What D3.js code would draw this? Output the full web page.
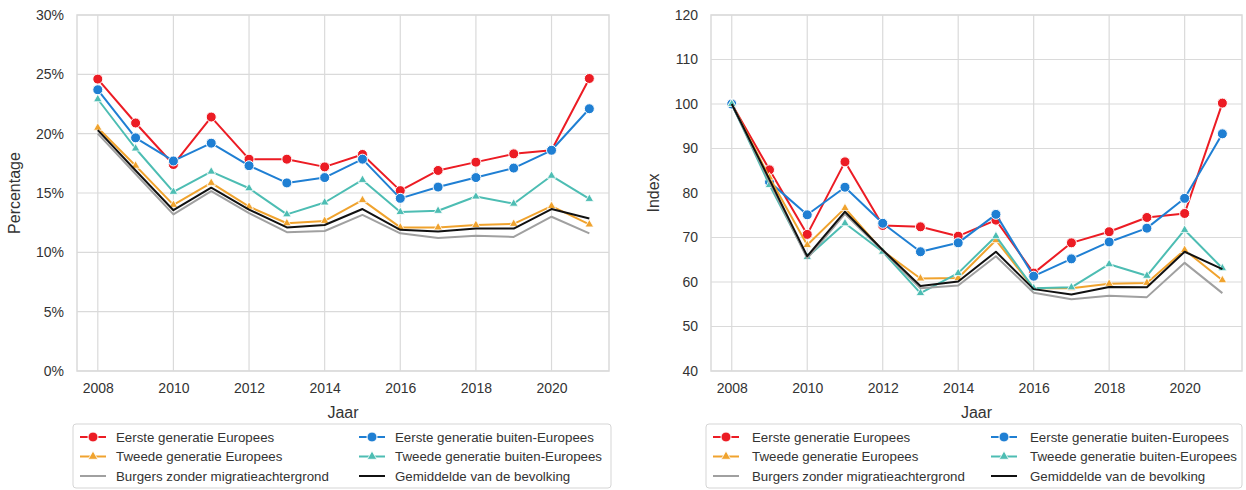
<!DOCTYPE html>
<html><head><meta charset="utf-8">
<script src="https://cdn.jsdelivr.net/npm/d3@7"></script>
<style>body{margin:0;background:#fff;}svg{display:block;font-family:"Liberation Sans",Arial,sans-serif;}</style>
</head><body>
<svg id="c" width="1246" height="490"></svg>
<script>
const years = [2008,2009,2010,2011,2012,2013,2014,2015,2016,2017,2018,2019,2020,2021];
const seriesNames = ["Eerste generatie Europees","Eerste generatie buiten-Europees","Tweede generatie Europees","Tweede generatie buiten-Europees","Burgers zonder migratieachtergrond","Gemiddelde van de bevolking"];
const seriesColors = ["#ec1c24","#1f7fd3","#f0a32e","#4dbdb3","#a0a0a0","#111111"];
const seriesMarkers = ["circle","circle","triangle","triangle","none","none"];
// Left: percentage
const pctEersteEur = [24.6,20.9,17.4,21.4,17.85,17.85,17.2,18.25,15.2,16.9,17.6,18.3,18.6,24.65];
const pctEersteBuiten = [23.7,19.65,17.7,19.2,17.3,15.85,16.3,17.85,14.55,15.5,16.3,17.1,18.6,22.1];
const pctTweedeEur = [20.5,17.3,14.0,15.85,13.85,12.45,12.65,14.4,12.1,12.1,12.3,12.4,13.9,12.35];
const pctTweedeBuiten = [22.9,18.75,15.1,16.8,15.4,13.2,14.2,16.1,13.4,13.5,14.7,14.1,16.45,14.5];
const pctBurgers = [20.0,16.6,13.2,15.15,13.3,11.7,11.8,13.15,11.6,11.2,11.4,11.3,13.0,11.6];
const pctGemiddelde = [20.3,16.9,13.55,15.45,13.6,12.1,12.3,13.65,11.9,11.75,12.0,12.0,13.65,12.85];
// Right: index
const idxEersteEur = [100,85.2,70.7,87.0,72.7,72.4,70.3,73.9,62.0,68.8,71.3,74.5,75.4,100.2];
const idxEersteBuiten = [100,82.5,75.1,81.3,73.2,66.8,68.8,75.2,61.3,65.2,69.0,72.1,78.8,93.3];
const idxTweedeEur = [100,83.5,68.3,76.6,67.0,60.8,60.9,69.4,58.6,58.6,59.6,59.8,67.2,60.4];
const idxTweedeBuiten = [100,81.8,65.6,73.2,66.8,57.5,62.0,70.3,58.6,58.8,64.0,61.4,71.7,63.1];
const idxBurgers = [100,82.5,65.3,75.3,67.0,58.6,59.2,65.8,57.6,56.1,56.9,56.6,64.3,57.5];
const idxGemiddelde = [100,83.0,65.8,75.8,67.2,59.1,60.1,66.8,58.4,57.2,58.9,58.8,66.8,62.9];

const yTicksLeft = [0,5,10,15,20,25,30];
const yTicksRight = [40,50,60,70,80,90,100,110,120];
const xTicks = [2008,2010,2012,2014,2016,2018,2020];

const svg = d3.select("#c");
const gridColor = "#dadada";
const textColor = "#333";

function panel(opts){
  const x = d3.scaleLinear().domain([2007.45,2021.52]).range([opts.x0,opts.x1]);
  const y = d3.scaleLinear().domain(opts.ydom).range([opts.y1,opts.y0]);
  const g = svg.append("g");
  g.selectAll(".gy").data(opts.yticks).enter().append("line")
    .attr("x1",opts.x0).attr("x2",opts.x1).attr("y1",d=>y(d)).attr("y2",d=>y(d))
    .attr("stroke",gridColor).attr("stroke-width",1.2);
  g.selectAll(".gx").data(xTicks).enter().append("line")
    .attr("y1",opts.y0).attr("y2",opts.y1).attr("x1",d=>x(d)).attr("x2",d=>x(d))
    .attr("stroke",gridColor).attr("stroke-width",1.2);
  g.append("rect").attr("x",opts.x0).attr("y",opts.y0).attr("width",opts.x1-opts.x0).attr("height",opts.y1-opts.y0)
    .attr("fill","none").attr("stroke",gridColor).attr("stroke-width",1.5);
  const ya = d3.axisLeft(y).tickValues(opts.yticks).tickSize(0).tickPadding(13).tickFormat(opts.fmt);
  const ag = g.append("g").attr("transform",`translate(${opts.x0},0)`).call(ya);
  ag.select(".domain").remove();
  ag.selectAll("text").attr("font-size",14).attr("fill",textColor).attr("font-family","Liberation Sans, Arial, sans-serif");
  const xa = d3.axisBottom(x).tickValues(xTicks).tickSize(0).tickPadding(12).tickFormat(d3.format("d"));
  const xg = g.append("g").attr("transform",`translate(0,${opts.y1})`).call(xa);
  xg.select(".domain").remove();
  xg.selectAll("text").attr("font-size",14).attr("fill",textColor).attr("font-family","Liberation Sans, Arial, sans-serif");
  g.append("text").attr("x",(opts.x0+opts.x1)/2).attr("y",418).attr("text-anchor","middle")
    .attr("font-size",16).attr("fill",textColor).text("Jaar");
  g.append("text").attr("transform",`translate(${opts.ylabX},${(opts.y0+opts.y1)/2}) rotate(-90)`)
    .attr("text-anchor","middle").attr("font-size",16).attr("fill",textColor).text(opts.ylab);
  const line = d3.line().x((d,i)=>x(years[i])).y(d=>y(d));
  const order = [0,1,2,3,4,5];
  order.forEach(si=>{
    const vals = opts.data[si];
    g.append("path").datum(vals).attr("d",line).attr("fill","none")
      .attr("stroke",seriesColors[si]).attr("stroke-width",2).attr("stroke-linejoin","round");
    if(seriesMarkers[si]==="circle"){
      g.selectAll(null).data(vals).enter().append("circle")
        .attr("cx",(d,i)=>x(years[i])).attr("cy",d=>y(d)).attr("r",5)
        .attr("fill",seriesColors[si]).attr("stroke","#fff").attr("stroke-width",1);
    } else if(seriesMarkers[si]==="triangle"){
      const sym = d3.symbol().type(d3.symbolTriangle).size(32);
      g.selectAll(null).data(vals).enter().append("path")
        .attr("d",sym).attr("transform",(d,i)=>`translate(${x(years[i])},${y(d)})`)
        .attr("fill",seriesColors[si]).attr("stroke","#fff").attr("stroke-width",0.8);
    }
  });
  const L = opts.leg;
  g.append("rect").attr("x",L.x).attr("y",424).attr("width",L.w).attr("height",64).attr("rx",3)
    .attr("fill","#fff").attr("stroke","#d5d5d5").attr("stroke-width",1);
  seriesNames.forEach((nm,i)=>{
    const col = i%2, row = Math.floor(i/2);
    const lx = L.x + 7 + col*L.colW, ly = 437 + row*19.5;
    g.append("line").attr("x1",lx).attr("x2",lx+26).attr("y1",ly).attr("y2",ly)
      .attr("stroke",seriesColors[i]).attr("stroke-width",2);
    if(seriesMarkers[i]==="circle"){
      g.append("circle").attr("cx",lx+13).attr("cy",ly).attr("r",5).attr("fill",seriesColors[i]).attr("stroke","#fff").attr("stroke-width",1);
    } else if(seriesMarkers[i]==="triangle"){
      g.append("path").attr("d",d3.symbol().type(d3.symbolTriangle).size(40)()).attr("transform",`translate(${lx+13},${ly})`)
        .attr("fill",seriesColors[i]).attr("stroke","#fff").attr("stroke-width",0.8);
    }
    g.append("text").attr("x",lx+L.textOff).attr("y",ly+4.5).attr("font-size",13.3).attr("fill",textColor).text(nm);
  });
}

panel({x0:77,x1:609,y0:15,y1:371,ydom:[0,30],yticks:yTicksLeft,fmt:d=>d+"%",ylab:"Percentage",ylabX:20,
  data:[pctEersteEur,pctEersteBuiten,pctTweedeEur,pctTweedeBuiten,pctBurgers,pctGemiddelde],
  leg:{x:73,w:538,colW:279,textOff:36}});
panel({x0:711,x1:1242,y0:15,y1:371,ydom:[40,120],yticks:yTicksRight,fmt:d3.format("d"),ylab:"Index",ylabX:659,
  data:[idxEersteEur,idxEersteBuiten,idxTweedeEur,idxTweedeBuiten,idxBurgers,idxGemiddelde],
  leg:{x:706,w:536,colW:278,textOff:39}});
</script>
</body></html>
